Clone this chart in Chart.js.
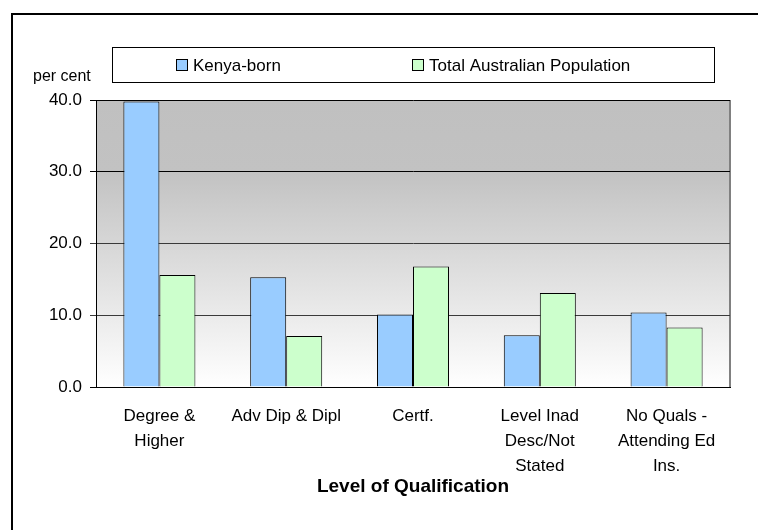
<!DOCTYPE html>
<html>
<head>
<meta charset="utf-8">
<script src="https://cdn.jsdelivr.net/npm/chart.js@4"></script>
<style>
  html, body { margin: 0; padding: 0; background: #fff; }
  #wrap { width: 758px; height: 530px; position: relative; }
</style>
</head>
<body>
<div id="wrap"><canvas id="qualChart" width="758" height="530"></canvas></div>
<script>
const categories = [
    ['Degree &', 'Higher'],
    'Adv Dip & Dipl',
    'Certf.',
    ['Level Inad', 'Desc/Not', 'Stated'],
    ['No Quals -', 'Attending Ed', 'Ins.']
];
const kenyaBorn = [39.8, 15.3, 10.1, 7.2, 10.4];
const totalAustralia = [15.6, 7.1, 16.8, 13.1, 8.3];
const yTicks = [0, 10, 20, 30, 40];

const fontFamily = '"Liberation Sans", Arial, sans-serif';
const blue = '#99ccff';
const green = '#ccffcc';

// plot background, outer frame, legend box and "per cent" label
const decor = {
    id: 'decor',
    beforeDraw(chart) {
        const ctx = chart.ctx;
        const a = chart.chartArea;
        ctx.save();
        ctx.fillStyle = '#fff';
        ctx.fillRect(0, 0, chart.width, chart.height);

        const y30 = chart.scales.y.getPixelForValue(30);
        const grad = ctx.createLinearGradient(0, a.top, 0, a.bottom);
        const stop = (y30 - a.top) / (a.bottom - a.top);
        grad.addColorStop(0, '#c0c0c0');
        grad.addColorStop(stop, '#c2c2c2');
        grad.addColorStop(1, '#ffffff');
        ctx.fillStyle = grad;
        ctx.fillRect(a.left, a.top, a.right - a.left, a.bottom - a.top);

        ctx.strokeStyle = '#808080';
        ctx.lineWidth = 2;
        ctx.beginPath();
        ctx.moveTo(a.right, a.top);
        ctx.lineTo(a.right, a.bottom);
        ctx.stroke();

        ctx.strokeStyle = '#000';
        ctx.lineWidth = 2;
        ctx.strokeRect(12, 14, 900, 700);
        ctx.restore();
    },
    afterDraw(chart) {
        const ctx = chart.ctx;
        ctx.save();
        ctx.fillStyle = '#fff';
        ctx.fillRect(112.5, 47.5, 602, 35);
        ctx.strokeStyle = '#000';
        ctx.lineWidth = 1;
        ctx.strokeRect(112.5, 47.5, 602, 35);

        const items = [
            { x: 176, text: chart.data.datasets[0].label, color: blue },
            { x: 412, text: chart.data.datasets[1].label, color: green }
        ];
        ctx.font = '17px ' + fontFamily;
        ctx.textBaseline = 'alphabetic';
        items.forEach(it => {
            ctx.fillStyle = it.color;
            ctx.fillRect(it.x + 0.5, 59.5, 11, 11);
            ctx.strokeStyle = '#000';
            ctx.strokeRect(it.x + 0.5, 59.5, 11, 11);
            ctx.fillStyle = '#000';
            ctx.fillText(it.text, it.x + 17, 71);
        });

        ctx.font = '16px ' + fontFamily;
        ctx.fillText('per cent', 33, 81);
        ctx.restore();
    }
};

new Chart(document.getElementById('qualChart'), {
    type: 'bar',
    data: {
        labels: categories,
        datasets: [
            {
                label: 'Kenya-born',
                data: kenyaBorn,
                backgroundColor: blue,
                borderColor: '#000',
                borderWidth: 1
            },
            {
                label: 'Total Australian Population',
                data: totalAustralia,
                backgroundColor: green,
                borderColor: '#000',
                borderWidth: 1
            }
        ]
    },
    options: {
        responsive: false,
        animation: false,
        devicePixelRatio: 1,
        layout: { padding: { left: 0, top: 100, right: 28, bottom: 0 } },
        datasets: {
            bar: { categoryPercentage: 0.568, barPercentage: 1 }
        },
        plugins: {
            legend: { display: false },
            tooltip: { enabled: false }
        },
        scales: {
            x: {
                grid: { display: false },
                border: { display: true, color: '#000', width: 1 },
                ticks: {
                    color: '#000',
                    padding: 9,
                    maxRotation: 0,
                    autoSkip: false,
                    font: { family: fontFamily, size: 17, lineHeight: 1.47 }
                },
                title: {
                    display: true,
                    text: 'Level of Qualification',
                    color: '#000',
                    padding: { top: 0, bottom: 32 },
                    font: { family: fontFamily, size: 19, weight: 'bold', lineHeight: 1.2 }
                },
                afterFit(scale) { scale.height = 143; }
            },
            y: {
                min: 0,
                max: 40,
                afterBuildTicks(scale) {
                    scale.ticks = yTicks.map(v => ({ value: v }));
                },
                grid: {
                    color: ctx => (ctx.tick && (ctx.tick.value === 10 || ctx.tick.value === 20)) ? '#3a3a3a' : '#000',
                    lineWidth: 1,
                    drawTicks: true,
                    tickLength: 6
                },
                border: { display: true, color: '#000', width: 1 },
                ticks: {
                    color: '#000',
                    padding: 8,
                    font: { family: fontFamily, size: 17 },
                    callback: v => Number(v).toFixed(1)
                },
                afterFit(scale) { scale.width = 96; }
            }
        }
    },
    plugins: [decor]
});
</script>
</body>
</html>
